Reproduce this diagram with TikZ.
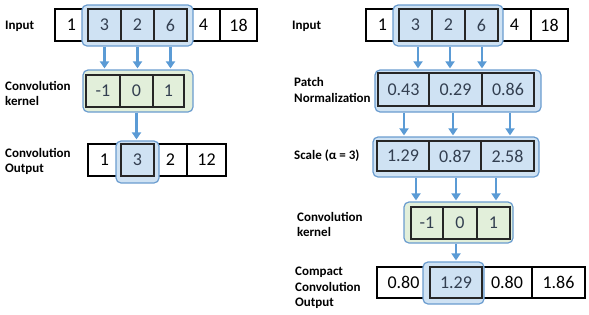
\documentclass[tikz,border=0pt]{standalone}
\usepackage{fontspec}
\setmainfont{Carlito}
\usetikzlibrary{arrows.meta}
\definecolor{hlfill}{HTML}{CFE2F3}
\definecolor{hlline}{HTML}{6A9CCF}
\definecolor{arrowblue}{HTML}{5B9BD5}
\definecolor{kfill}{HTML}{E2EFDA}
\definecolor{dtext}{HTML}{333F50}
\tikzset{
  cell/.style={draw=black, fill=white, line width=1.1pt, inner sep=0pt, font=\fontsize{18}{20}\selectfont, text=black},
  hcell/.style={draw=black!85, line width=1.1pt, inner sep=0pt, font=\fontsize{18}{20}\selectfont, text=dtext},
  kcell/.style={draw=black!85, line width=1.1pt, inner sep=0pt, font=\fontsize{18}{20}\selectfont, text=dtext},
  hlbox/.style={draw=hlline, fill=hlfill, line width=1.2pt, rounded corners=5pt, inner sep=0pt},
  kbox/.style={draw=hlline, fill=kfill, line width=1.2pt, rounded corners=5pt, inner sep=0pt},
  lbl/.style={anchor=west, align=left, inner sep=0pt, font=\fontsize{13}{15.5}\selectfont\bfseries},
  arr/.style={draw=arrowblue, line width=2.3pt, -{Triangle[length=7pt,width=9pt]}, shorten >=1pt},
}
\begin{document}
\begin{tikzpicture}[x=1pt,y=-1pt]
\useasboundingbox (0,0) rectangle (589,314);
% ---------------- Left ----------------
\node[lbl] (Llin) at (5,26) {Input};
\node[lbl] (Llk) at (5,93.5) {Convolution\\kernel};
\node[lbl] (Llo) at (5,161.5) {Convolution\\Output};
% input row
\node[cell, minimum width=33pt, minimum height=32pt] (Li1) at (71.5,25) {1};
\node[cell, minimum width=33pt, minimum height=32pt] (Li5) at (203.5,25) {4};
\node[cell, minimum width=37pt, minimum height=32pt] (Li6) at (238.5,25) {18};
\node[hlbox, minimum width=111pt, minimum height=41pt] (Lhl) at (137.5,25.5) {};
\node[hcell, minimum width=33pt, minimum height=32pt] (Li2) at (104.5,25) {3};
\node[hcell, minimum width=33pt, minimum height=32pt] (Li3) at (137.5,25) {2};
\node[hcell, minimum width=33pt, minimum height=32pt] (Li4) at (170.5,25) {6};
% kernel
\node[kbox, minimum width=110pt, minimum height=42pt] (Lk) at (138,91) {};
\node[kcell, minimum width=34pt, minimum height=32pt] (Lk1) at (103,91) {-1};
\node[kcell, minimum width=33pt, minimum height=32pt] (Lk2) at (136.5,91) {0};
\node[kcell, minimum width=31pt, minimum height=32pt] (Lk3) at (168.5,91) {1};
% output
\node[cell, minimum width=33pt, minimum height=32pt] (Lo1) at (104.5,160) {1};
\node[cell, minimum width=33pt, minimum height=32pt] (Lo3) at (170.5,160) {2};
\node[cell, minimum width=39pt, minimum height=32pt] (Lo4) at (206.5,160) {12};
\node[hlbox, minimum width=43pt, minimum height=42pt] (Lohl) at (137.5,162) {};
\node[hcell, minimum width=33pt, minimum height=32pt] (Lo2) at (137.5,160) {3};
% arrows
\draw[arr] (Li2.center |- Lhl.south) -- (Li2.center |- Lk.north);
\draw[arr] (Li3.center |- Lhl.south) -- (Li3.center |- Lk.north);
\draw[arr] (Li4.center |- Lhl.south) -- (Li4.center |- Lk.north);
\draw[arr] (Lk2.center |- Lk.south) -- (Lk2.center |- Lohl.north);
% ---------------- Right ----------------
\node[lbl] (Rlin) at (292,26) {Input};
\node[lbl] (Rln) at (294,90) {Patch\\Normalization};
\node[lbl] (Rls) at (294,156) {Scale (α = 3)};
\node[lbl] (Rlk) at (297,224.5) {Convolution\\kernel};
\node[lbl] (Rlo) at (295,288) {Compact\\Convolution\\Output};
% input row
\node[cell, minimum width=33pt, minimum height=32pt] (Ri1) at (382.5,25) {1};
\node[cell, minimum width=33pt, minimum height=32pt] (Ri5) at (514.5,25) {4};
\node[cell, minimum width=37pt, minimum height=32pt] (Ri6) at (549.5,25) {18};
\node[hlbox, minimum width=110pt, minimum height=41pt] (Rhl) at (448,25.5) {};
\node[hcell, minimum width=33pt, minimum height=32pt] (Ri2) at (415.5,25) {3};
\node[hcell, minimum width=33pt, minimum height=32pt] (Ri3) at (448.5,25) {2};
\node[hcell, minimum width=33pt, minimum height=32pt] (Ri4) at (481.5,25) {6};
% normalization
\node[hlbox, minimum width=166pt, minimum height=42pt] (Rn) at (458,91) {};
\node[hcell, minimum width=51pt, minimum height=33pt] (Rn1) at (403.5,89.5) {0.43};
\node[hcell, minimum width=53pt, minimum height=33pt] (Rn2) at (455.5,89.5) {0.29};
\node[hcell, minimum width=52pt, minimum height=33pt] (Rn3) at (508,89.5) {0.86};
% scale
\node[hlbox, minimum width=166pt, minimum height=40pt] (Rs) at (456,157) {};
\node[hcell, minimum width=52pt, minimum height=30pt] (Rs1) at (403,156) {1.29};
\node[hcell, minimum width=52pt, minimum height=30pt] (Rs2) at (455,156) {0.87};
\node[hcell, minimum width=53pt, minimum height=30pt] (Rs3) at (507.5,156) {2.58};
% kernel
\node[kbox, minimum width=109pt, minimum height=41pt] (Rk) at (458.5,222.5) {};
\node[kcell, minimum width=32pt, minimum height=32pt] (Rk1) at (427,223) {-1};
\node[kcell, minimum width=34pt, minimum height=32pt] (Rk2) at (460,223) {0};
\node[kcell, minimum width=33pt, minimum height=32pt] (Rk3) at (493.5,223) {1};
% output
\node[cell, minimum width=53pt, minimum height=31pt] (Ro1) at (403.5,282.5) {0.80};
\node[cell, minimum width=50pt, minimum height=31pt] (Ro3) at (507,282.5) {0.80};
\node[cell, minimum width=53pt, minimum height=31pt] (Ro4) at (558.5,282.5) {1.86};
\node[hlbox, minimum width=61pt, minimum height=42pt] (Rohl) at (453.5,283) {};
\node[hcell, minimum width=52pt, minimum height=31pt] (Ro2) at (456,282.5) {1.29};
% arrow coordinates
\coordinate (a1) at (418,0); \coordinate (a2) at (450,0); \coordinate (a3) at (482,0);
\coordinate (b1) at (404,0); \coordinate (b2) at (453,0); \coordinate (b3) at (510,0);
\coordinate (c1) at (416,0); \coordinate (c2) at (456,0); \coordinate (c3) at (496,0);
\draw[arr] (a1 |- Rhl.south) -- (a1 |- Rn.north);
\draw[arr] (a2 |- Rhl.south) -- (a2 |- Rn.north);
\draw[arr] (a3 |- Rhl.south) -- (a3 |- Rn.north);
\draw[arr] (b1 |- Rn.south) -- (b1 |- Rs.north);
\draw[arr] (b2 |- Rn.south) -- (b2 |- Rs.north);
\draw[arr] (b3 |- Rn.south) -- (b3 |- Rs.north);
\draw[arr] (c1 |- Rs.south) -- (c1 |- Rk.north);
\draw[arr] (c2 |- Rs.south) -- (c2 |- Rk.north);
\draw[arr] (c3 |- Rs.south) -- (c3 |- Rk.north);
\draw[arr] (Ro2.center |- Rk.south) -- (Ro2.center |- Rohl.north);
\end{tikzpicture}
\end{document}
